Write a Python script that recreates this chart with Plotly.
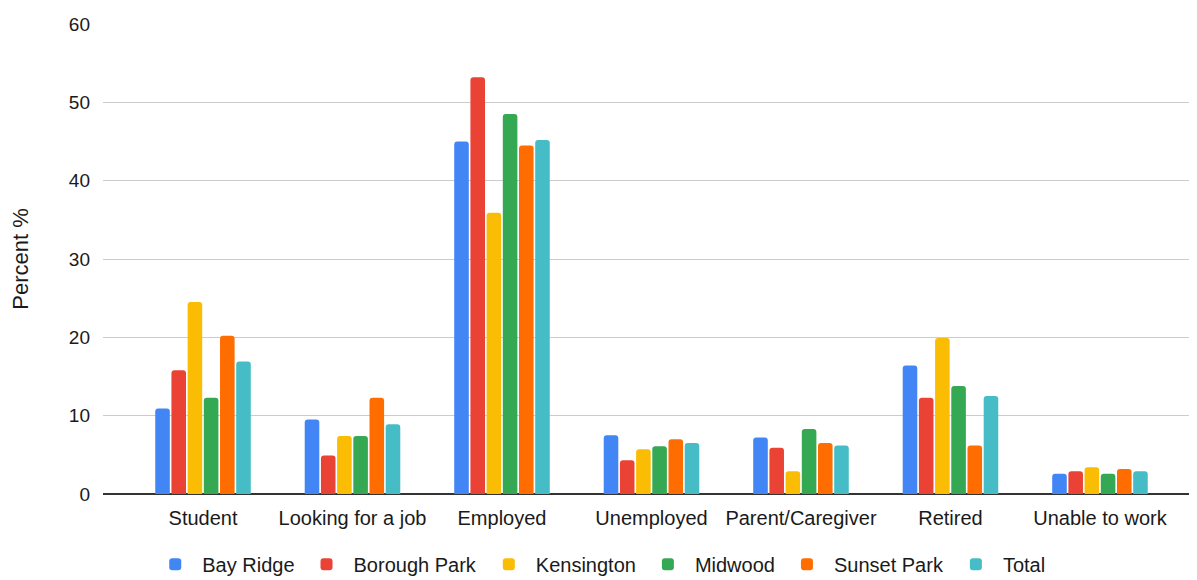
import plotly.graph_objects as go

categories = ["Student", "Looking for a job", "Employed", "Unemployed",
              "Parent/Caregiver", "Retired", "Unable to work"]

bay_ridge    = [10.9, 9.5, 45.0, 7.5, 7.2, 16.4, 2.6]
borough_park = [15.8, 4.9, 53.2, 4.3, 5.9, 12.3, 2.9]
kensington   = [24.5, 7.4, 35.9, 5.7, 2.9, 19.9, 3.4]
midwood      = [12.3, 7.4, 48.5, 6.1, 8.3, 13.8, 2.6]
sunset_park  = [20.2, 12.3, 44.5, 7.0, 6.5, 6.2, 3.2]
total        = [16.9, 8.9, 45.2, 6.5, 6.2, 12.5, 2.9]

series_names = ["Bay Ridge", "Borough Park", "Kensington", "Midwood", "Sunset Park", "Total"]
series_values = [bay_ridge, borough_park, kensington, midwood, sunset_park, total]
colors = ["#4285F4", "#EA4335", "#FBBC04", "#34A853", "#FF6D01", "#46BDC6"]

FONT = "Liberation Sans, Arial, sans-serif"
TXT = "#1a1a1a"

fig = go.Figure()
for name, vals, col in zip(series_names, series_values, colors):
    fig.add_trace(go.Bar(x=categories, y=vals, name=name, marker_color=col,
                         marker_line_width=0))

fig.update_layout(
    width=1189, height=572,
    margin=dict(l=95, r=0, t=16, b=86, autoexpand=False),
    paper_bgcolor="white", plot_bgcolor="white",
    barmode="group", bargap=0.35, bargroupgap=0.1, barcornerradius=3,
    font=dict(family=FONT, size=20, color=TXT),
    legend=dict(orientation="h", x=0.4536, xanchor="center", y=-0.108, yanchor="top",
                font=dict(family=FONT, size=20, color=TXT),
                itemwidth=44, tracegroupgap=0),
    showlegend=True,
)
fig.update_xaxes(type="category", range=[-0.669, 6.649], showgrid=False,
                 ticks="", ticklabelstandoff=10, showline=False, automargin=False,
                 tickfont=dict(family=FONT, size=20, color=TXT))
fig.update_yaxes(range=[0, 60], dtick=10, showgrid=True, gridcolor="#cccccc",
                 gridwidth=1, zeroline=True, zerolinecolor="#333333", zerolinewidth=2,
                 ticklabelstandoff=12, showline=False, automargin=False,
                 tickfont=dict(family=FONT, size=19, color=TXT),
                 title=dict(text="Percent %", standoff=36,
                            font=dict(family=FONT, size=22, color=TXT)))

fig.write_html("out.html")
